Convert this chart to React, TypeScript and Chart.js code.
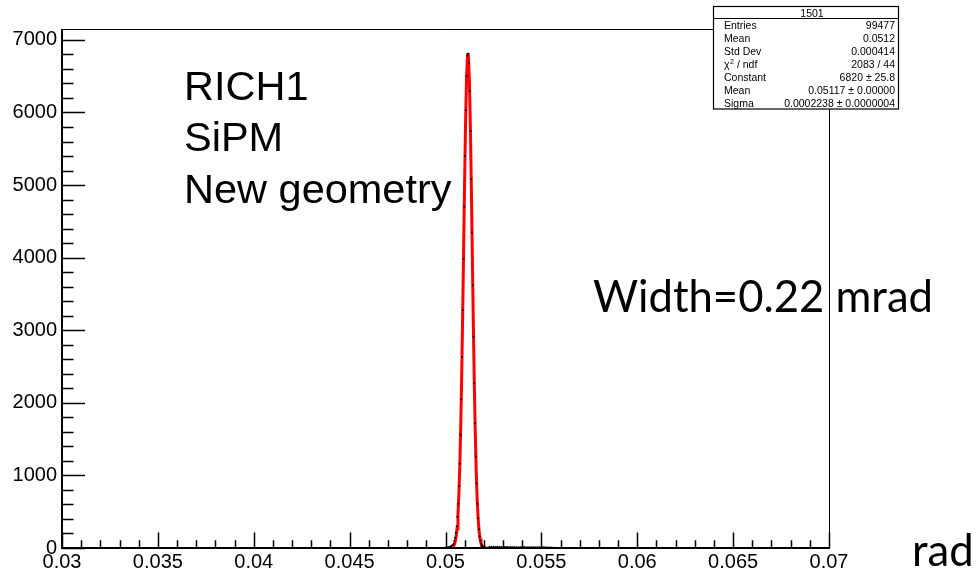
import React, { useEffect, useRef } from "react";
import { Chart, registerables } from "chart.js";

Chart.register(...registerables);

// ---------- axes ----------
const X_MIN = 0.03;
const X_MAX = 0.07;
const Y_MIN = 0;
const Y_MAX = 7150;
const xTickValues = [0.03, 0.035, 0.04, 0.045, 0.05, 0.055, 0.06, 0.065, 0.07];
const xTickLabels = ["0.03", "0.035", "0.04", "0.045", "0.05", "0.055", "0.06", "0.065", "0.07"];
const yTickValues = [0, 1000, 2000, 3000, 4000, 5000, 6000, 7000];
const yTickLabels = ["0", "1000", "2000", "3000", "4000", "5000", "6000", "7000"];
const xMinorStep = 0.001;
const yMinorStep = 200;

// ---------- histogram (bin contents, bin width 0.00004) ----------
const histFirstBinCenter = 0.05002;
const histBinWidth = 0.00004;
const histCounts = [
  3, 4, 6, 8, 11, 15, 20, 27, 34,
  40, 60, 95, 140, 210, 300, 430, 610, 850, 1160,
  1560, 2050, 2630, 3280, 3980, 4700, 5400, 6030, 6500, 6780,
  6810, 6680, 6300, 5740, 5080, 4350, 3620, 2910, 2270, 1720,
  1260, 890, 610, 410, 260, 160, 100, 60, 35, 20,
  12, 8, 5, 3, 2, 2, 1,
];
// low right-hand tail
const tailX = [
  0.0523, 0.0524, 0.0525, 0.0526, 0.0527, 0.0528, 0.0529, 0.053, 0.0531, 0.0532,
  0.0533, 0.0534, 0.0535, 0.0536, 0.0537, 0.0538, 0.0539, 0.054, 0.0541, 0.0542,
  0.0543, 0.0544, 0.0545, 0.0546, 0.0547, 0.0548, 0.0549, 0.055, 0.0551, 0.0552,
  0.0553, 0.0554, 0.0555, 0.0556, 0.0557,
];
const tailY = [
  18, 15, 17, 14, 16, 13, 15, 12, 14, 13,
  12, 14, 11, 13, 12, 10, 12, 11, 13, 10,
  11, 9, 12, 10, 11, 9, 10, 8, 10, 9,
  8, 7, 6, 4, 2,
];

// ---------- Gaussian fit curve (red) ----------
const fitX = [
  0.0504, 0.05045, 0.0505, 0.05055, 0.0506, 0.05065, 0.0507, 0.05075, 0.0508, 0.05085,
  0.0509, 0.05095, 0.051, 0.05105, 0.0511, 0.05115, 0.05117, 0.0512, 0.05125, 0.0513,
  0.05135, 0.0514, 0.05145, 0.0515, 0.05155, 0.0516, 0.05165, 0.0517, 0.05175, 0.0518,
  0.05185, 0.0519, 0.05195, 0.052, 0.05205, 0.0521,
];
const fitY = [
  18, 39, 77, 147, 266, 459, 752, 1172, 1738, 2454,
  3294, 4207, 5110, 5907, 6495, 6793, 6820, 6759, 6398, 5762,
  4936, 4022, 3118, 2300, 1614, 1077, 684, 413, 237, 130,
  68, 33, 16, 7, 3, 1,
];

// ---------- texts ----------
const labelLines = ["RICH1", "SiPM", "New geometry"];
const widthText = "Width=0.22 mrad";
const unitText = "rad";
const statTitle = "1501";
const statNames = ["Entries", "Mean", "Std Dev", "CHI2", "Constant", "Mean", "Sigma"];
const statValues = [
  "99477",
  "0.0512",
  "0.000414",
  "2083 / 44",
  "6820 \u00b1 25.8",
  "0.05117 \u00b1 0.00000",
  "0.0002238 \u00b1 0.0000004",
];

const overlayPlugin = {
  id: "rootOverlay",
  afterDatasetsDraw(chart: any) {
    const ctx: CanvasRenderingContext2D = chart.ctx;
    const xs = chart.scales.x;
    const ys = chart.scales.y;
    const { left, right, top, bottom } = chart.chartArea;
    ctx.save();
    ctx.strokeStyle = "#000";
    ctx.lineCap = "butt";
    // frame
    ctx.lineWidth = 1;
    ctx.beginPath();
    ctx.moveTo(left, top + 0.5);
    ctx.lineTo(right + 0.5, top + 0.5);
    ctx.lineTo(right + 0.5, bottom);
    ctx.stroke();
    ctx.lineWidth = 2;
    ctx.beginPath();
    ctx.moveTo(left, top);
    ctx.lineTo(left, bottom);
    ctx.lineTo(right + 1, bottom);
    ctx.stroke();

    const w = right - left;
    const h = bottom - top;
    const yMajorLen = 0.03 * w;
    const xMajorLen = 0.03 * h;
    ctx.lineWidth = 1.5;
    ctx.beginPath();
    // x ticks
    for (let v = X_MIN; v <= X_MAX + 1e-9; v += xMinorStep) {
      const vv = Math.round(v * 1e6) / 1e6;
      const isMajor = xTickValues.some((t) => Math.abs(t - vv) < 1e-7);
      const px = Math.round(xs.getPixelForValue(vv)) + 0.5;
      ctx.moveTo(px, bottom);
      ctx.lineTo(px, bottom - (isMajor ? xMajorLen : xMajorLen / 2));
    }
    // y ticks
    for (let v = Y_MIN; v <= Y_MAX; v += yMinorStep) {
      const isMajor = yTickValues.includes(v);
      const py = Math.round(ys.getPixelForValue(v)) + 0.5;
      ctx.moveTo(left, py);
      ctx.lineTo(left + (isMajor ? yMajorLen : yMajorLen / 2), py);
    }
    ctx.stroke();
    ctx.restore();
  },
  afterDraw(chart: any) {
    const ctx: CanvasRenderingContext2D = chart.ctx;
    ctx.save();
    ctx.fillStyle = "#000";
    ctx.textBaseline = "alphabetic";

    // Large labels
    ctx.font = '41.5px "Liberation Sans", Arial, sans-serif';
    ctx.textAlign = "left";
    labelLines.forEach((t, i) => ctx.fillText(t, 184, 100 + i * 51.3));

    // Width text (Calibri-like)
    ctx.font = '40px Lato, "Open Sans", sans-serif';
    const m = ctx.measureText(widthText).width;
    const fs = (40 * 340) / m;
    ctx.font = `${fs}px Lato, "Open Sans", sans-serif`;
    ctx.fillText(widthText, 593, 312);
    ctx.fillText(unitText, 912, 566);

    // Stats box
    const bx = 713.5, by = 6.5, bw = 185, bh = 102.5;
    ctx.fillStyle = "#fff";
    ctx.fillRect(bx, by, bw, bh);
    ctx.strokeStyle = "#000";
    ctx.lineWidth = 1.2;
    ctx.strokeRect(bx, by, bw, bh);
    ctx.beginPath();
    ctx.moveTo(bx, 18.5);
    ctx.lineTo(bx + bw, 18.5);
    ctx.stroke();
    ctx.fillStyle = "#000";
    ctx.font = '10.5px "Liberation Sans", Arial, sans-serif';
    ctx.textAlign = "center";
    ctx.fillText(statTitle, 812, 16.5);
    statNames.forEach((name, i) => {
      const yb = 29 + i * 13;
      ctx.textAlign = "left";
      if (name === "CHI2") {
        ctx.fillText("\u03c7", 724, yb);
        const cw = ctx.measureText("\u03c7").width;
        ctx.font = '7px "Liberation Sans", Arial, sans-serif';
        ctx.fillText("2", 724 + cw + 0.5, yb - 4);
        ctx.font = '10.5px "Liberation Sans", Arial, sans-serif';
        ctx.fillText(" / ndf", 724 + cw + 4.5, yb);
      } else {
        ctx.fillText(name, 724, yb);
      }
      ctx.textAlign = "right";
      ctx.fillText(statValues[i], 895, yb);
    });
    ctx.restore();
  },
};

export default function App() {
  const canvasRef = useRef<HTMLCanvasElement | null>(null);

  useEffect(() => {
    document.body.style.margin = "0";
    const canvas = canvasRef.current;
    if (!canvas) return;

    const histPoints = histCounts.map((c, i) => ({
      x: histFirstBinCenter + i * histBinWidth,
      y: c,
    }));
    const tailPoints = tailX.map((x, i) => ({ x, y: tailY[i] }));
    const fitPoints = fitX.map((x, i) => ({ x, y: fitY[i] }));

    const chart = new Chart(canvas, {
      type: "scatter",
      data: {
        datasets: [
          {
            label: "fit",
            data: fitPoints,
            showLine: true,
            borderColor: "#ff0000",
            borderWidth: 3,
            pointRadius: 0,
            fill: false,
            order: 2,
          } as any,
          {
            label: "hist",
            data: [...histPoints, ...tailPoints],
            pointRadius: 1,
            pointBorderWidth: 0,
            backgroundColor: "#000",
            borderColor: "#000",
            order: 1,
          } as any,
        ],
      },
      options: {
        responsive: false,
        animation: false,
        devicePixelRatio: 1,
        layout: { padding: { left: 0, top: 29, right: 147, bottom: 0 } },
        plugins: {
          legend: { display: false },
          tooltip: { enabled: false },
          title: { display: false },
        },
        scales: {
          x: {
            type: "linear",
            min: X_MIN,
            max: X_MAX,
            grid: { display: false, drawTicks: false },
            border: { display: false },
            afterBuildTicks: (scale: any) => {
              scale.ticks = xTickValues.map((v) => ({ value: v }));
            },
            afterFit: (scale: any) => {
              scale.height = 29;
            },
            ticks: {
              autoSkip: false,
              maxRotation: 0,
              padding: 2,
              color: "#000",
              font: { family: '"Liberation Sans", Arial, sans-serif', size: 20 },
              callback: (_v: any, i: number) => xTickLabels[i],
            },
          },
          y: {
            type: "linear",
            min: Y_MIN,
            max: Y_MAX,
            grid: { display: false, drawTicks: false },
            border: { display: false },
            afterBuildTicks: (scale: any) => {
              scale.ticks = yTickValues.map((v) => ({ value: v }));
            },
            afterFit: (scale: any) => {
              scale.width = 62;
            },
            ticks: {
              autoSkip: false,
              padding: 5,
              color: "#000",
              font: { family: '"Liberation Sans", Arial, sans-serif', size: 20 },
              callback: (_v: any, i: number) => yTickLabels[i],
            },
          },
        },
      } as any,
      plugins: [overlayPlugin],
    });

    return () => chart.destroy();
  }, []);

  return (
    <div style={{ position: "absolute", left: 0, top: 0, width: 976, height: 577, background: "#fff" }}>
      <canvas ref={canvasRef} width={976} height={577} style={{ display: "block" }} />
    </div>
  );
}
